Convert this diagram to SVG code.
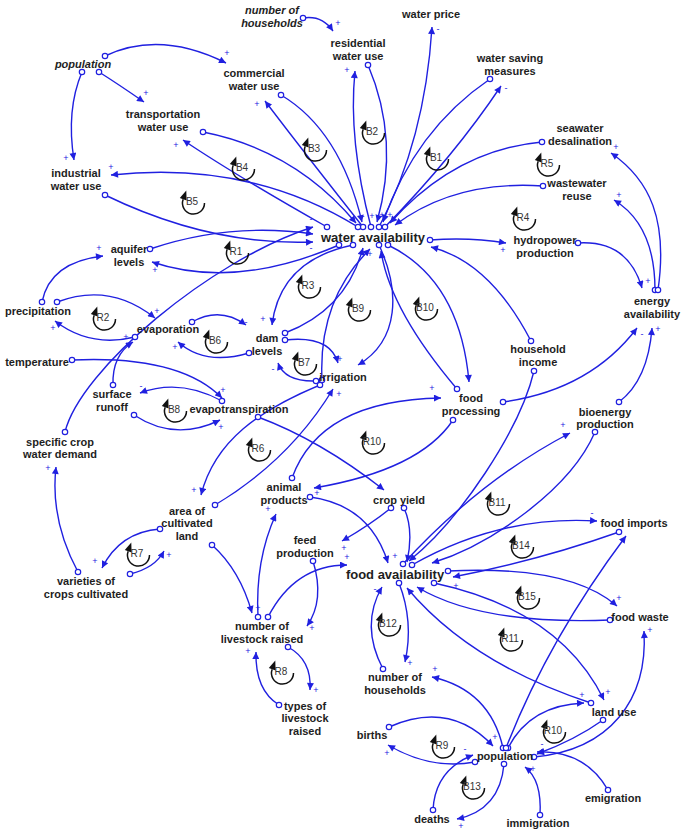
<svg xmlns="http://www.w3.org/2000/svg" xmlns:xlink="http://www.w3.org/1999/xlink" width="685" height="835" viewBox="0 0 685 835">
<style>
.n{font-family:'Liberation Sans',Arial,sans-serif;font-weight:bold;font-size:11px;fill:#1e1e1e;text-anchor:middle}
.big{font-size:13px}
.it{font-style:italic}
.c{fill:none;stroke:#2020e0;stroke-width:1.4;marker-start:url(#o);marker-end:url(#a)}
.s{font-family:'Liberation Sans',Arial,sans-serif;font-size:9px;fill:#2020e0;text-anchor:middle}
.lt{font-family:'Liberation Sans',Arial,sans-serif;font-size:10px;fill:#333;text-anchor:middle}
</style>
<defs>
<marker id="a" viewBox="0 0 10 10" refX="10" refY="5" markerWidth="8" markerHeight="7" markerUnits="userSpaceOnUse" orient="auto"><path d="M0,0 L10,5 L0,10 z" fill="#2020e0"/></marker>
<marker id="o" viewBox="-4 -4 8 8" refX="0" refY="0" markerWidth="8" markerHeight="8" markerUnits="userSpaceOnUse"><circle r="2.7" fill="#fff" stroke="#2020e0" stroke-width="1.2"/></marker>
<g id="loop"><path d="M -8.8 -1.8 A 11 11 0 1 0 12.5 2" fill="none" stroke="#111" stroke-width="1.5"/><path d="M -5.7 -10.5 L -12.2 -3 L -5.4 -0.6 Z" fill="#111"/></g>
</defs>
<rect width="685" height="835" fill="#fff"/>
<g id="connectors">
<path class="c" d="M303,18 Q322,15 333,31"/>
<path class="c" d="M105,56 Q160,30 226,63"/>
<path class="c" d="M99,72 Q118,84 144,102"/>
<path class="c" d="M82,72 Q66,110 74,160"/>
<path class="c" d="M371,227 Q348,140 355,71"/>
<path class="c" d="M368,65 Q400,140 377,222"/>
<path class="c" d="M379,227 Q425,140 432,27"/>
<path class="c" d="M490,79 Q415,130 383,222"/>
<path class="c" d="M385,227 Q455,155 501,86"/>
<path class="c" d="M542,142 Q455,150 390,223"/>
<path class="c" d="M543,186 Q455,180 395,225"/>
<path class="c" d="M281,95 Q340,130 362,222"/>
<path class="c" d="M363,227 Q310,160 265,101"/>
<path class="c" d="M203,132 Q295,150 356,223"/>
<path class="c" d="M327,227 Q235,175 183,140"/>
<path class="c" d="M358,227 Q250,160 111,175"/>
<path class="c" d="M105,195 Q210,246 313,242"/>
<path class="c" d="M150,249 Q230,222 313,234"/>
<path class="c" d="M339,245 Q235,290 152,262"/>
<path class="c" d="M65,432 C80,370 210,260 313,227"/>
<path class="c" d="M42,302 Q50,262 103,256"/>
<path class="c" d="M57,302 Q110,282 155,318"/>
<path class="c" d="M135,337 Q90,348 55,321"/>
<path class="c" d="M192,322 Q220,306 246,325"/>
<path class="c" d="M249,353 Q205,366 178,342"/>
<path class="c" d="M113,385 Q112,355 133,342"/>
<path class="c" d="M353,245 Q280,260 272,325"/>
<path class="c" d="M285,333 Q346,310 363,248"/>
<path class="c" d="M285,340 Q330,335 338,363"/>
<path class="c" d="M316,381 Q285,382 278,363"/>
<path class="c" d="M322,380 Q318,300 370,249"/>
<path class="c" d="M379,245 C400,290 400,340 358,365"/>
<path class="c" d="M388,245 Q460,280 469,382"/>
<path class="c" d="M457,389 Q390,310 381,251"/>
<path class="c" d="M430,240 Q470,237 506,243"/>
<path class="c" d="M531,341 Q490,262 431,247"/>
<path class="c" d="M578,243 Q628,240 642,288"/>
<path class="c" d="M655,290 Q655,225 614,200"/>
<path class="c" d="M658,290 C668,220 650,180 611,153"/>
<path class="c" d="M619,402 Q648,380 652,328"/>
<path class="c" d="M503,402 Q590,390 637,328"/>
<path class="c" d="M72,360 Q180,355 222,398"/>
<path class="c" d="M222,401 Q180,378 140,393"/>
<path class="c" d="M134,415 Q175,442 220,420"/>
<path class="c" d="M320,385 C260,410 215,440 201,495"/>
<path class="c" d="M215,505 Q290,460 333,389"/>
<path class="c" d="M258,417 Q320,440 384,490"/>
<path class="c" d="M453,420 Q420,470 314,488"/>
<path class="c" d="M292,478 Q320,400 441,398"/>
<path class="c" d="M310,497 Q370,505 388,563"/>
<path class="c" d="M391,508 Q370,525 342,541"/>
<path class="c" d="M404,508 Q414,530 407,562"/>
<path class="c" d="M212,545 Q240,570 252,613"/>
<path class="c" d="M258,617 Q255,560 276,514"/>
<path class="c" d="M268,617 Q295,565 347,565"/>
<path class="c" d="M313,561 Q325,600 307,626"/>
<path class="c" d="M288,647 Q312,660 310,690"/>
<path class="c" d="M279,705 Q255,690 256,652"/>
<path class="c" d="M160,529 Q120,532 102,568"/>
<path class="c" d="M130,574 Q155,568 164,551"/>
<path class="c" d="M78,572 Q50,520 56,467"/>
<path class="c" d="M403,564 Q480,480 570,433"/>
<path class="c" d="M412,565 Q500,515 597,521"/>
<path class="c" d="M595,432 C570,490 490,545 432,563"/>
<path class="c" d="M534,371 C520,430 460,520 409,561"/>
<path class="c" d="M619,532 Q540,560 453,577"/>
<path class="c" d="M448,571 Q570,565 617,606"/>
<path class="c" d="M610,620 Q480,625 417,587"/>
<path class="c" d="M434,583 Q560,610 604,700"/>
<path class="c" d="M591,703 Q471,664 407,588"/>
<path class="c" d="M399,583 Q414,622 405,662"/>
<path class="c" d="M383,669 Q360,625 382,587"/>
<path class="c" d="M503,748 Q490,690 432,677"/>
<path class="c" d="M508,748 Q530,705 584,703"/>
<path class="c" d="M506,748 Q548,640 626,536"/>
<path class="c" d="M389,727 Q450,700 493,746"/>
<path class="c" d="M475,762 Q430,770 388,745"/>
<path class="c" d="M433,810 Q435,770 473,755"/>
<path class="c" d="M504,764 Q500,810 457,819"/>
<path class="c" d="M540,815 Q542,780 525,767"/>
<path class="c" d="M608,790 Q585,750 537,752"/>
<path class="c" d="M603,720 Q575,740 537,754"/>
<path class="c" d="M534,757 C610,750 648,700 644,631"/>
<g id="polarities">
<text class="s" x="338" y="26">+</text>
<text class="s" x="227" y="56">+</text>
<text class="s" x="146" y="96">+</text>
<text class="s" x="66" y="161">+</text>
<text class="s" x="347" y="73">+</text>
<text class="s" x="438" y="32">-</text>
<text class="s" x="506" y="91">-</text>
<text class="s" x="257" y="107">+</text>
<text class="s" x="176" y="148">+</text>
<text class="s" x="111" y="170">+</text>
<text class="s" x="363" y="219">-</text>
<text class="s" x="372" y="219">+</text>
<text class="s" x="382" y="218">+</text>
<text class="s" x="390" y="218">+</text>
<text class="s" x="311" y="222">-</text>
<text class="s" x="311" y="251">-</text>
<text class="s" x="370" y="257">+</text>
<text class="s" x="503" y="253">+</text>
<text class="s" x="648" y="284">+</text>
<text class="s" x="619" y="198">+</text>
<text class="s" x="616" y="150">+</text>
<text class="s" x="658" y="332">+</text>
<text class="s" x="642" y="337">-</text>
<text class="s" x="99" y="251">+</text>
<text class="s" x="155" y="273">+</text>
<text class="s" x="157" y="314">+</text>
<text class="s" x="53" y="331">+</text>
<text class="s" x="246" y="325">-</text>
<text class="s" x="175" y="350">+</text>
<text class="s" x="126" y="340">+</text>
<text class="s" x="263" y="322">+</text>
<text class="s" x="340" y="362">+</text>
<text class="s" x="273" y="372">-</text>
<text class="s" x="223" y="393">+</text>
<text class="s" x="141" y="389">-</text>
<text class="s" x="221" y="430">+</text>
<text class="s" x="194" y="493">+</text>
<text class="s" x="339" y="397">+</text>
<text class="s" x="317" y="496">+</text>
<text class="s" x="432" y="391">+</text>
<text class="s" x="395" y="559">+</text>
<text class="s" x="344" y="551">+</text>
<text class="s" x="258" y="611">+</text>
<text class="s" x="268" y="512">+</text>
<text class="s" x="347" y="560">+</text>
<text class="s" x="312" y="631">+</text>
<text class="s" x="316" y="693">+</text>
<text class="s" x="248" y="654">+</text>
<text class="s" x="95" y="564">+</text>
<text class="s" x="169" y="558">+</text>
<text class="s" x="48" y="471">+</text>
<text class="s" x="563" y="428">+</text>
<text class="s" x="592" y="516">-</text>
<text class="s" x="456" y="589">+</text>
<text class="s" x="619" y="601">+</text>
<text class="s" x="608" y="695">+</text>
<text class="s" x="410" y="666">+</text>
<text class="s" x="375" y="592">-</text>
<text class="s" x="435" y="672">+</text>
<text class="s" x="582" y="698">+</text>
<text class="s" x="495" y="740">+</text>
<text class="s" x="387" y="756">+</text>
<text class="s" x="465" y="752">-</text>
<text class="s" x="461" y="829">+</text>
<text class="s" x="533" y="772">+</text>
<text class="s" x="542" y="747">-</text>
<text class="s" x="650" y="633">+</text>
</g>
</g>
<g id="loops">
<g transform="translate(436,157)"><use xlink:href="#loop"/><text class="lt" y="3.5">B1</text></g>
<g transform="translate(372,131)"><use xlink:href="#loop"/><text class="lt" y="3.5">B2</text></g>
<g transform="translate(314,148)"><use xlink:href="#loop"/><text class="lt" y="3.5">B3</text></g>
<g transform="translate(242,167)"><use xlink:href="#loop"/><text class="lt" y="3.5">B4</text></g>
<g transform="translate(192,201)"><use xlink:href="#loop"/><text class="lt" y="3.5">B5</text></g>
<g transform="translate(236,251)"><use xlink:href="#loop"/><text class="lt" y="3.5">R1</text></g>
<g transform="translate(103,317)"><use xlink:href="#loop"/><text class="lt" y="3.5">R2</text></g>
<g transform="translate(215,340)"><use xlink:href="#loop"/><text class="lt" y="3.5">B6</text></g>
<g transform="translate(308,285)"><use xlink:href="#loop"/><text class="lt" y="3.5">R3</text></g>
<g transform="translate(304,362)"><use xlink:href="#loop"/><text class="lt" y="3.5">B7</text></g>
<g transform="translate(358,308)"><use xlink:href="#loop"/><text class="lt" y="3.5">B9</text></g>
<g transform="translate(425,307)"><use xlink:href="#loop"/><text class="lt" y="3.5">B10</text></g>
<g transform="translate(523,217)"><use xlink:href="#loop"/><text class="lt" y="3.5">R4</text></g>
<g transform="translate(547,163)"><use xlink:href="#loop"/><text class="lt" y="3.5">R5</text></g>
<g transform="translate(174,409)"><use xlink:href="#loop"/><text class="lt" y="3.5">B8</text></g>
<g transform="translate(258,448)"><use xlink:href="#loop"/><text class="lt" y="3.5">R6</text></g>
<g transform="translate(137,553)"><use xlink:href="#loop"/><text class="lt" y="3.5">R7</text></g>
<g transform="translate(372,441)"><use xlink:href="#loop"/><text class="lt" y="3.5">R10</text></g>
<g transform="translate(497,502)"><use xlink:href="#loop"/><text class="lt" y="3.5">B11</text></g>
<g transform="translate(521,545)"><use xlink:href="#loop"/><text class="lt" y="3.5">B14</text></g>
<g transform="translate(527,596)"><use xlink:href="#loop"/><text class="lt" y="3.5">B15</text></g>
<g transform="translate(388,623)"><use xlink:href="#loop"/><text class="lt" y="3.5">B12</text></g>
<g transform="translate(510,638)"><use xlink:href="#loop"/><text class="lt" y="3.5">R11</text></g>
<g transform="translate(281,671)"><use xlink:href="#loop"/><text class="lt" y="3.5">R8</text></g>
<g transform="translate(442,745)"><use xlink:href="#loop"/><text class="lt" y="3.5">R9</text></g>
<g transform="translate(472,786)"><use xlink:href="#loop"/><text class="lt" y="3.5">B13</text></g>
<g transform="translate(553,730)"><use xlink:href="#loop"/><text class="lt" y="3.5">R10</text></g>
</g>
<g id="n-households-top"><text class="n it" x="272" y="14">number of<tspan x="272" dy="12.5">households</tspan></text></g>
<g id="n-residential"><text class="n" x="358" y="47">residential<tspan x="358" dy="12.5">water use</tspan></text></g>
<g id="n-water-price"><text class="n" x="431" y="18">water price</text></g>
<g id="n-water-saving"><text class="n" x="510" y="62">water saving<tspan x="510" dy="12.5">measures</tspan></text></g>
<g id="n-commercial"><text class="n" x="254" y="77">commercial<tspan x="254" dy="12.5">water use</tspan></text></g>
<g id="n-population-top"><text class="n it" x="83" y="68">population</text></g>
<g id="n-transportation"><text class="n" x="163" y="118">transportation<tspan x="163" dy="12.5">water use</tspan></text></g>
<g id="n-industrial"><text class="n" x="76" y="177">industrial<tspan x="76" dy="12.5">water use</tspan></text></g>
<g id="n-seawater"><text class="n" x="580" y="132">seawater<tspan x="580" dy="12.5">desalination</tspan></text></g>
<g id="n-wastewater"><text class="n" x="577" y="187">wastewater<tspan x="577" dy="12.5">reuse</tspan></text></g>
<g id="n-water-availability"><text class="n big" x="373" y="242">water availability</text></g>
<g id="n-hydropower"><text class="n" x="545" y="244">hydropower<tspan x="545" dy="12.5">production</tspan></text></g>
<g id="n-energy"><text class="n" x="652" y="305">energy<tspan x="652" dy="12.5">availability</tspan></text></g>
<g id="n-aquifer"><text class="n" x="129" y="253">aquifer<tspan x="129" dy="12.5">levels</tspan></text></g>
<g id="n-precipitation"><text class="n" x="38" y="315">precipitation</text></g>
<g id="n-evaporation"><text class="n" x="168" y="333">evaporation</text></g>
<g id="n-dam"><text class="n" x="267" y="342">dam<tspan x="267" dy="12.5">levels</tspan></text></g>
<g id="n-temperature"><text class="n" x="37" y="366">temperature</text></g>
<g id="n-irrigation"><text class="n" x="343" y="381">irrigation</text></g>
<g id="n-runoff"><text class="n" x="112" y="398">surface<tspan x="112" dy="12.5">runoff</tspan></text></g>
<g id="n-evapotranspiration"><text class="n" x="239" y="413">evapotranspiration</text></g>
<g id="n-crop-demand"><text class="n" x="60" y="446">specific crop<tspan x="60" dy="12">water demand</tspan></text></g>
<g id="n-area"><text class="n" x="187" y="515">area of<tspan x="187" dy="12.3">cultivated</tspan><tspan x="187" dy="12.3">land</tspan></text></g>
<g id="n-varieties"><text class="n" x="86" y="585">varieties of<tspan x="86" dy="12.5">crops cultivated</tspan></text></g>
<g id="n-animal"><text class="n" x="284" y="491">animal<tspan x="284" dy="12.5">products</tspan></text></g>
<g id="n-crop-yield"><text class="n" x="399" y="504">crop yield</text></g>
<g id="n-feed"><text class="n" x="305" y="544">feed<tspan x="305" dy="12.5">production</tspan></text></g>
<g id="n-food-availability"><text class="n big" x="395" y="579">food availability</text></g>
<g id="n-livestock"><text class="n" x="262" y="630">number of<tspan x="262" dy="12.5">livestock raised</tspan></text></g>
<g id="n-types"><text class="n" x="305" y="710">types of<tspan x="305" dy="12.3">livestock</tspan><tspan x="305" dy="12.3">raised</tspan></text></g>
<g id="n-households"><text class="n" x="395" y="681">number of<tspan x="395" dy="12.5">households</tspan></text></g>
<g id="n-births"><text class="n" x="372" y="739">births</text></g>
<g id="n-population"><text class="n" x="505" y="760">population</text></g>
<g id="n-deaths"><text class="n" x="432" y="823">deaths</text></g>
<g id="n-immigration"><text class="n" x="538" y="827">immigration</text></g>
<g id="n-emigration"><text class="n" x="613" y="802">emigration</text></g>
<g id="n-land-use"><text class="n" x="614" y="716">land use</text></g>
<g id="n-food-waste"><text class="n" x="640" y="621">food waste</text></g>
<g id="n-food-imports"><text class="n" x="634" y="527">food imports</text></g>
<g id="n-bioenergy"><text class="n" x="605" y="416">bioenergy<tspan x="605" dy="12">production</tspan></text></g>
<g id="n-income"><text class="n" x="538" y="353">household<tspan x="538" dy="12.5">income</tspan></text></g>
<g id="n-food-processing"><text class="n" x="471" y="402">food<tspan x="471" dy="12.5">processing</tspan></text></g>
</svg>
